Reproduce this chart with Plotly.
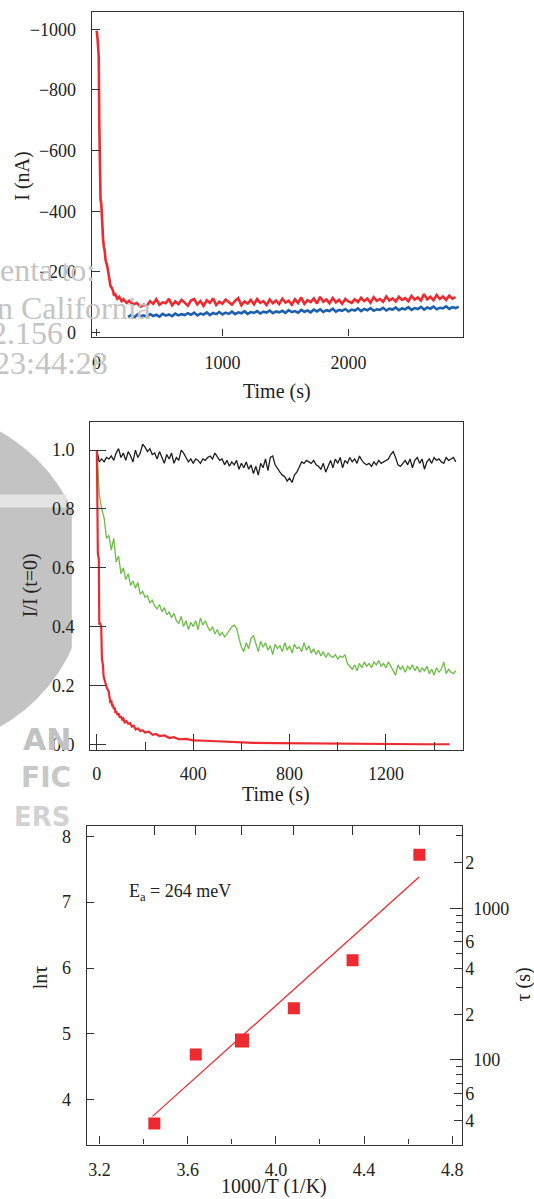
import math
import plotly.graph_objects as go

W, H = 534, 1199
SERIF = "Liberation Serif"

# ---------------- Panel 1: current transients I (nA) vs time (s) ----------------
red_decay_t = [0, 5, 10, 15, 18, 22, 26, 32, 38, 45, 52, 58, 65, 72, 85, 95,
               105, 111, 120, 130, 140, 150, 165, 180, 200, 214, 240, 260, 290, 320, 349, 375]
red_decay_i = [-995, -985, -960, -930, -908, -700, -548, -440, -425, -350, -310, -285, -270, -240, -220, -195,
               -170, -154, -148, -140, -122, -126, -112, -118, -104, -110, -98, -105, -93, -98, -86, -92]
red_base_t = list(range(400, 2851, 25))
red_base_i = [-88, -104, -95, -110, -92, -100, -97, -112, -90, -103,
              -94, -108, -99, -89, -106, -111, -93, -104, -88, -107,
              -98, -113, -91, -102, -95, -109, -101, -92, -105, -114,
              -90, -103, -96, -108, -93, -111, -98, -104, -91, -109,
              -97, -106, -94, -112, -99, -105, -92, -110, -98, -116,
              -95, -107, -101, -113, -96, -118, -102, -109, -97, -114,
              -100, -108, -95, -111, -103, -98, -110, -101, -115, -104,
              -112, -99, -117, -105, -111, -102, -119, -106, -113, -103,
              -118, -108, -114, -104, -121, -109, -116, -106, -127, -110,
              -118, -107, -124, -111, -119, -108, -122, -112, -117]
blue_t = list(range(250, 2876, 25))
blue_i = [-52, -58, -50, -60, -54, -57, -51, -61, -55, -59,
          -53, -62, -56, -60, -54, -63, -57, -61, -58, -64,
          -59, -66, -57, -63, -60, -67, -58, -65, -61, -68,
          -60, -66, -62, -69, -61, -67, -64, -70, -62, -68,
          -65, -71, -63, -69, -66, -73, -64, -70, -67, -72,
          -65, -74, -68, -71, -66, -75, -69, -73, -67, -76,
          -70, -77, -68, -74, -71, -79, -69, -75, -72, -78,
          -70, -76, -73, -80, -71, -78, -74, -81, -72, -77,
          -75, -82, -73, -79, -76, -83, -74, -80, -77, -84,
          -75, -81, -78, -85, -76, -83, -79, -86, -77, -82,
          -80, -87, -78, -84, -81, -86]
p1_yticks = [0, -200, -400, -600, -800, -1000]
p1_yticktext = ["0", "\u2212200", "\u2212400", "\u2212600", "\u2212800", "\u22121000"]
p1_xticks = [0, 1000, 2000]

# ---------------- Panel 2: normalised current I/I(t=0) vs time ----------------
norm_t = list(range(0, 1500, 10))
black_v = [1.00, 0.96, 0.97, 0.96, 0.975, 0.97, 0.98, 0.965, 0.99, 1.005,
           0.975, 0.99, 0.965, 0.995, 0.98, 0.96, 1.0, 0.975, 0.99, 1.02,
           1.01, 0.995, 1.005, 0.985, 0.99, 0.97, 0.995, 0.975, 0.955, 0.985,
           0.97, 0.99, 0.955, 0.975, 0.965, 1.0, 0.99, 0.975, 0.96, 0.97,
           0.955, 0.97, 0.965, 0.955, 0.97, 0.965, 0.975, 0.98, 0.97, 0.99,
           0.975, 0.965, 0.97, 0.95, 0.965, 0.945, 0.96, 0.95, 0.965, 0.935,
           0.955, 0.94, 0.96, 0.935, 0.95, 0.92, 0.945, 0.915, 0.955, 0.94,
           0.97, 0.93, 0.975, 0.98, 0.95, 0.935, 0.925, 0.915, 0.91, 0.895,
           0.905, 0.89, 0.915, 0.925, 0.945, 0.96, 0.955, 0.965, 0.96, 0.955,
           0.965, 0.95, 0.945, 0.935, 0.955, 0.925, 0.945, 0.965, 0.94, 0.97,
           0.955, 0.975, 0.94, 0.965, 0.955, 0.975, 0.96, 0.97, 0.955, 0.98,
           0.965, 0.955, 0.95, 0.955, 0.945, 0.96, 0.95, 0.965, 0.955, 0.96,
           0.965, 0.97, 0.985, 0.995, 0.975, 0.95, 0.945, 0.955, 0.965, 0.95,
           0.97, 0.94, 0.965, 0.975, 0.955, 0.97, 0.935, 0.96, 0.97, 0.955,
           0.975, 0.965, 0.97, 0.96, 0.955, 0.975, 0.965, 0.97, 0.975, 0.96]
green_v = [1.00, 0.85, 0.80, 0.77, 0.70, 0.71, 0.66, 0.70, 0.62, 0.64,
           0.58, 0.60, 0.56, 0.58, 0.54, 0.555, 0.53, 0.55, 0.51, 0.52,
           0.50, 0.505, 0.48, 0.49, 0.47, 0.46, 0.475, 0.45, 0.465, 0.44,
           0.45, 0.43, 0.445, 0.42, 0.41, 0.435, 0.40, 0.42, 0.39, 0.415,
           0.40, 0.42, 0.39, 0.43, 0.405, 0.42, 0.40, 0.385, 0.40, 0.375,
           0.39, 0.37, 0.38, 0.365, 0.375, 0.39, 0.40, 0.405, 0.395, 0.36,
           0.33, 0.315, 0.345, 0.325, 0.36, 0.37, 0.34, 0.315, 0.35, 0.33,
           0.345, 0.32, 0.335, 0.305, 0.34, 0.325, 0.335, 0.315, 0.345, 0.32,
           0.335, 0.31, 0.34, 0.325, 0.33, 0.315, 0.345, 0.32, 0.335, 0.31,
           0.325, 0.305, 0.32, 0.30, 0.315, 0.295, 0.31, 0.30, 0.295, 0.305,
           0.29, 0.30, 0.295, 0.305, 0.275, 0.265, 0.255, 0.27, 0.25, 0.275,
           0.26, 0.28, 0.265, 0.275, 0.26, 0.28, 0.27, 0.285, 0.265, 0.275,
           0.26, 0.28, 0.265, 0.25, 0.235, 0.27, 0.255, 0.265, 0.245, 0.265,
           0.255, 0.27, 0.25, 0.265, 0.245, 0.26, 0.25, 0.265, 0.24, 0.255,
           0.235, 0.26, 0.245, 0.255, 0.28, 0.24, 0.255, 0.245, 0.24, 0.25]
red2_t = [0, 2, 4, 6, 8, 10, 14, 18, 21, 25, 28, 35, 42, 49, 56, 60, 63, 67, 70, 74,
          77, 81, 85, 90, 95, 100, 105, 110, 115, 122, 130, 138, 145, 153, 161, 170, 180, 190,
          200, 215, 232, 245, 260, 280, 302, 320, 340, 370, 400, 450, 500, 582, 650, 750,
          850, 950, 1050, 1150, 1250, 1350, 1464]
red2_v = [1.0, 0.66, 0.65, 0.64, 0.63, 0.41, 0.41, 0.40, 0.29, 0.27, 0.23, 0.21, 0.19, 0.18, 0.14, 0.15, 0.13, 0.135, 0.12, 0.125,
          0.107, 0.112, 0.10, 0.105, 0.09, 0.095, 0.084, 0.088, 0.075, 0.079, 0.07, 0.072, 0.06, 0.063, 0.05, 0.054, 0.045, 0.048,
          0.04, 0.043, 0.032, 0.035, 0.028, 0.03, 0.021, 0.024, 0.017, 0.018, 0.013, 0.012, 0.01, 0.006, 0.005, 0.004,
          0.003, 0.002, 0.002, 0.001, 0.001, 0.0, 0.0]
p2_xticks = [0, 400, 800, 1200]
p2_xminor = [200, 600, 1000, 1400]
p2_yticks = [0.0, 0.2, 0.4, 0.6, 0.8, 1.0]
p2_yticktext = ["0.0", "0.2", "0.4", "0.6", "0.8", "1.0"]

# ---------------- Panel 3: Arrhenius plot ----------------
temps_K = [290, 275, 260, 245, 230, 215]
ln_tau = [3.64, 4.69, 4.90, 5.39, 6.12, 7.72]
fit_inv_T = [3.44, 4.65]
fit_ln_tau = [3.75, 7.38]
p3_xticks = [3.2, 3.6, 4.0, 4.4, 4.8]
p3_xticktext = ["3.2", "3.6", "4.0", "4.4", "4.8"]
p3_xminor = [3.4, 3.8, 4.2, 4.6]
p3_yticks = [4, 5, 6, 7, 8]
tau_ticks = [40, 60, 200, 400, 600, 2000]
tau_ticktext = ["4", "6", "2", "4", "6", "2"]
tau_major = [100, 1000]
tau_major_text = ["100", "1000"]
tau_minor = [50, 70, 80, 90, 300, 500, 700, 800, 900, 3000]

inv_T = [1000.0 / t for t in temps_K]
tau_s = [math.exp(v) for v in ln_tau]

# ---------------- colours ----------------
RED = "#ec2a2f"
BLUE = "#1d5fb0"
GREEN = "#6cbd45"
BLACK = "#1e1e1e"
FRAME = "#333333"
WM = "#c4c4c4"


def fx(px):
    return px / W


def fy(py):
    return 1 - py / H


fig = go.Figure()
fig.add_trace(go.Scatter(x=red_decay_t + red_base_t, y=red_decay_i + red_base_i, mode="lines",
                         line=dict(color=RED, width=2.6), xaxis="x", yaxis="y"))
fig.add_trace(go.Scatter(x=blue_t, y=blue_i, mode="lines",
                         line=dict(color=BLUE, width=2.6), xaxis="x", yaxis="y"))

fig.add_trace(go.Scatter(x=norm_t, y=black_v, mode="lines", line=dict(color=BLACK, width=1.3),
                         xaxis="x2", yaxis="y2"))
fig.add_trace(go.Scatter(x=norm_t, y=green_v, mode="lines", line=dict(color=GREEN, width=1.3),
                         xaxis="x2", yaxis="y2"))
fig.add_trace(go.Scatter(x=red2_t, y=red2_v, mode="lines", line=dict(color=RED, width=2.2),
                         xaxis="x2", yaxis="y2"))

fig.add_trace(go.Scatter(x=fit_inv_T, y=fit_ln_tau, mode="lines", line=dict(color=RED, width=1.3),
                         xaxis="x3", yaxis="y3"))
fig.add_trace(go.Scatter(x=inv_T, y=ln_tau, mode="markers",
                         marker=dict(symbol="square", color=RED, opacity=1, size=[12, 12, 14, 12, 12, 12],
                                     line=dict(width=0)),
                         xaxis="x3", yaxis="y3"))
# invisible carriers for the extra (top / right) axes of panel 3
fig.add_trace(go.Scatter(x=inv_T, y=ln_tau, mode="markers", marker=dict(opacity=0), xaxis="x4", yaxis="y3"))
fig.add_trace(go.Scatter(x=inv_T, y=tau_s, mode="markers", marker=dict(opacity=0), xaxis="x3", yaxis="y4"))
fig.add_trace(go.Scatter(x=inv_T, y=tau_s, mode="markers", marker=dict(opacity=0), xaxis="x3", yaxis="y5"))

TICKFONT = dict(family=SERIF, size=18, color="#222")


def ax(**kw):
    base = dict(showline=True, linecolor=FRAME, linewidth=1.3, mirror=True, showgrid=False, zeroline=False,
                ticks="inside", tickcolor=FRAME, tickwidth=1.2, tickfont=TICKFONT, fixedrange=True,
                tickmode="array")
    base.update(kw)
    return base


def ov(**kw):
    base = dict(showline=False, showgrid=False, zeroline=False, ticks="inside", tickcolor=FRAME,
                tickwidth=1.2, tickfont=TICKFONT, fixedrange=True, tickmode="array")
    base.update(kw)
    return base


ln_lo, ln_hi = 3.321, 8.154
log_lo, log_hi = ln_lo / math.log(10), ln_hi / math.log(10)

fig.update_layout(
    width=W, height=H, margin=dict(l=0, r=0, t=0, b=0),
    paper_bgcolor="white", plot_bgcolor="rgba(0,0,0,0)", showlegend=False,
    font=dict(family=SERIF, color="#222"),
    xaxis=ax(domain=[fx(92), fx(464)], anchor="y", range=[-37, 2910], tickvals=p1_xticks,
             ticklen=7, ticklabelstandoff=10),
    yaxis=ax(domain=[fy(338.3), fy(11.7)], anchor="x", range=[13, -1058], tickvals=p1_yticks,
             ticktext=p1_yticktext, ticklen=8, ticklabelstandoff=11),
    xaxis2=ax(domain=[fx(90.3), fx(463.9)], anchor="y2", range=[-28, 1520], tickvals=p2_xticks,
              ticklen=16, ticklabelstandoff=7,
              minor=dict(tickmode="array", tickvals=p2_xminor, ticks="inside", ticklen=8,
                         tickcolor=FRAME, tickwidth=1.2)),
    yaxis2=ax(domain=[fy(753.8), fy(424.1)], anchor="x2", range=[-0.0196, 1.0957], tickvals=p2_yticks,
              ticktext=p2_yticktext, ticklen=16, ticklabelstandoff=11),
    xaxis3=ax(domain=[fx(86.9), fx(463.2)], anchor="y3", range=[3.1416, 4.846], tickvals=p3_xticks,
              ticktext=p3_xticktext, ticklen=8, ticklabelstandoff=9,
              minor=dict(tickmode="array", tickvals=p3_xminor, ticks="inside", ticklen=5,
                         tickcolor=FRAME, tickwidth=1.2)),
    yaxis3=ax(domain=[fy(1150.4), fy(830.2)], anchor="x3", range=[ln_lo, ln_hi], tickvals=p3_yticks,
              ticklen=7, ticklabelstandoff=11),
    xaxis4=ov(overlaying="x3", side="top", anchor="y3", range=[3.1416, 4.846], tickvals=inv_T,
              ticklen=9, showticklabels=False),
    yaxis4=ov(overlaying="y3", side="right", anchor="x3", type="log", range=[log_lo, log_hi],
              tickvals=tau_ticks, ticktext=tau_ticktext, ticklen=8, ticklabelstandoff=2,
              minor=dict(tickmode="array", tickvals=tau_minor, ticks="inside", ticklen=6,
                         tickcolor=FRAME, tickwidth=1.2)),
    yaxis5=ov(overlaying="y3", side="right", anchor="x3", type="log", range=[log_lo, log_hi],
              tickvals=tau_major, ticktext=tau_major_text, ticklen=12, ticklabelstandoff=10),
)

# watermark background (grey disk clipped by white panel background)
fig.add_shape(type="circle", xref="paper", yref="paper", layer="below",
              x0=fx(-253), x1=fx(87), y0=fy(752), y1=fy(412),
              fillcolor="#c3c3c3", line=dict(width=0))
fig.add_shape(type="rect", xref="paper", yref="paper", layer="below",
              x0=fx(0), x1=fx(66), y0=fy(510), y1=fy(497), fillcolor="#e4e4e4", line=dict(width=0))
fig.add_shape(type="rect", xref="paper", yref="paper", layer="below",
              x0=fx(72), x1=fx(534), y0=fy(770), y1=fy(405), fillcolor="white", line=dict(width=0))

annotations = []


def txt(text, x, y, size=20, angle=0, xanchor="center", color="#222", family=SERIF):
    annotations.append(dict(text=text, x=fx(x), y=fy(y), xref="paper", yref="paper", showarrow=False,
                            xanchor=xanchor, yanchor="middle", textangle=angle,
                            font=dict(family=family, size=size, color=color)))


# watermark texts
txt("enta to:", 97, 271, size=32, xanchor="right", color=WM)
txt("n California", 153, 309.5, size=32, xanchor="right", color=WM)
txt("2.156", 65, 334.5, size=32, xanchor="right", color=WM)
txt("23:44:28", 110, 364.5, size=32, xanchor="right", color=WM)
txt("<b>AN</b>", 73, 743, size=30, xanchor="right", color="#c2c2c2", family="DejaVu Sans")
txt("<b>FIC</b>", 73, 781, size=28, xanchor="right", color="#c8c8c8", family="DejaVu Sans")
txt("<b>ERS</b>", 73, 821, size=26, xanchor="right", color="#d2d2d2", family="DejaVu Sans")

# axis titles
txt("I (nA)", 21.7, 177, angle=-90)
txt("Time (s)", 277.6, 393)
txt("I/I (t=0)", 30.7, 588.6, angle=-90)
txt("Time (s)", 277, 798)
txt("ln\u03c4", 40.2, 982, angle=-90)
txt("\u03c4 (s)", 524.5, 990, angle=-90)
txt("1000/T (1/K)", 275, 1192)
txt("E<sub>a</sub> = 264 meV", 127.7, 897, size=18, xanchor="left")

fig.update_layout(annotations=annotations)

fig.write_html("out.html")
